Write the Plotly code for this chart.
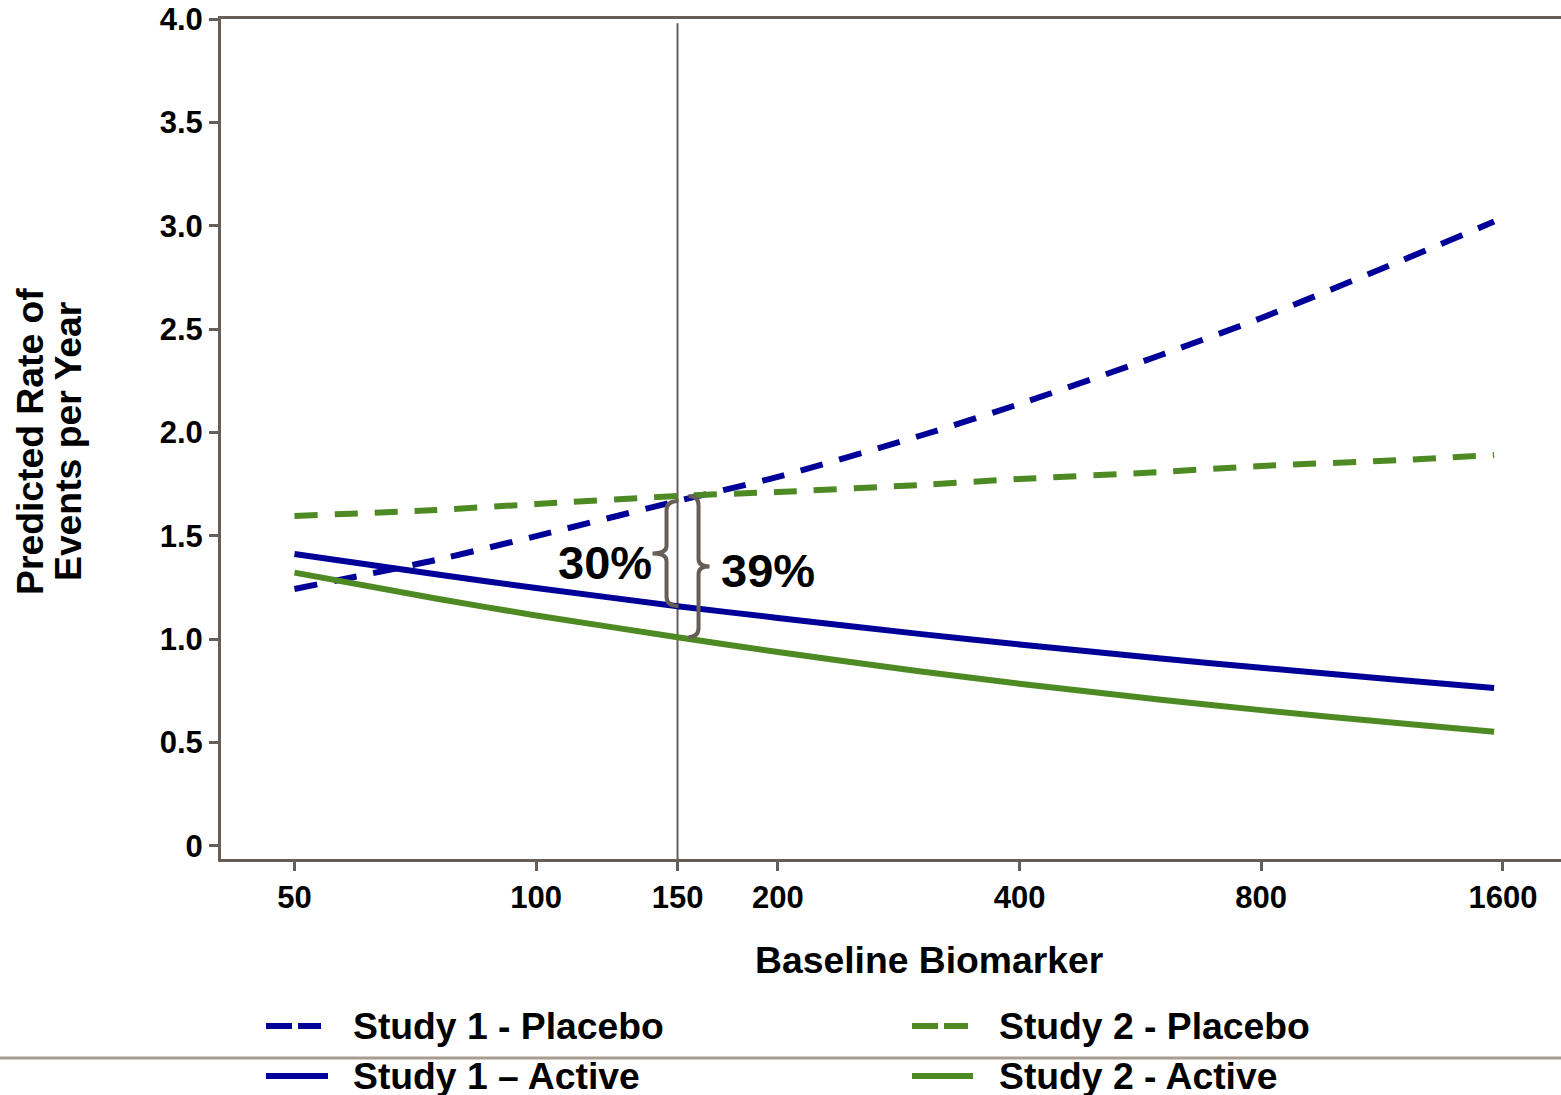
import numpy as np
import plotly.graph_objects as go

# ---------------- data ----------------
biomarker = [50, 75, 100, 150, 200, 300, 400, 600, 800, 1200, 1560]
study1_placebo = [1.243, 1.383, 1.499, 1.669, 1.785, 1.983, 2.138, 2.375, 2.554, 2.834, 3.020]
study1_active = [1.412, 1.314, 1.248, 1.160, 1.103, 1.026, 0.975, 0.907, 0.862, 0.802, 0.764]
study2_placebo = [1.596, 1.625, 1.654, 1.693, 1.712, 1.746, 1.775, 1.809, 1.838, 1.867, 1.891]
study2_active = [1.322, 1.197, 1.115, 1.010, 0.938, 0.845, 0.785, 0.707, 0.657, 0.592, 0.553]

series_names = ["Study 1 - Placebo", "Study 1 \u2013 Active", "Study 2 - Placebo", "Study 2 - Active"]

x_tickvals = [50, 100, 150, 200, 400, 800, 1600]
x_ticktext = ["50", "100", "150", "200", "400", "800", "1600"]
y_tickvals = [0, 0.5, 1.0, 1.5, 2.0, 2.5, 3.0, 3.5, 4.0]
y_ticktext = ["0", "0.5", "1.0", "1.5", "2.0", "2.5", "3.0", "3.5", "4.0"]

reference_biomarker = 150
reduction_labels = ["30%", "39%"]

x_title = "Baseline Biomarker"
y_title_lines = ["Predicted Rate of", "Events per Year"]

# ---------------- styling ----------------
BLUE = "#000099"
GREEN = "#4E8A23"
AXIS = "#675E57"
SEP = "#A89B8F"
FONT = "Liberation Sans, Arial, sans-serif"
BIG = 37.3
W, H = 1561, 1095
ML, MR, MT, MB = 221, 0, 19, 236
PW, PH = W - ML - MR, H - MT - MB


def px_x(px):
    return (px - ML) / PW


def px_y(py):
    return (H - MB - py) / PH


fig = go.Figure()
series = [
    (series_names[0], study1_placebo, BLUE, "23px,17px"),
    (series_names[1], study1_active, BLUE, "solid"),
    (series_names[2], study2_placebo, GREEN, "23px,17px"),
    (series_names[3], study2_active, GREEN, "solid"),
]
for name, vals, col, dash in series:
    fig.add_trace(go.Scatter(
        x=biomarker, y=vals, name=name, mode="lines",
        line=dict(color=col, width=6, dash=dash, shape="spline", smoothing=0.6),
        showlegend=False,
    ))

# vertical reference line
fig.add_shape(type="line", xref="x", yref="paper",
              x0=reference_biomarker, x1=reference_biomarker, y0=0, y1=0.995,
              line=dict(color=AXIS, width=2), layer="below")

i_ref = biomarker.index(reference_biomarker)


def brace(top, bottom, tip, body, point, r):
    mid = (top + bottom) / 2
    return (f"M {tip} {top} Q {body} {top} {body} {top - r} "
            f"L {body} {mid + r * 0.8} Q {body} {mid} {point} {mid} "
            f"Q {body} {mid} {body} {mid - r * 0.8} "
            f"L {body} {bottom + r} Q {body} {bottom} {tip} {bottom}")


s1_top, s1_bot = study1_placebo[i_ref], study1_active[i_ref]
s2_top, s2_bot = study2_placebo[i_ref], study2_active[i_ref]
for top, bot, tip, body, point in [(s1_top, s1_bot, 1, -11, -25),
                                   (s2_top, s2_bot, 11, 21, 32)]:
    fig.add_shape(type="path", xref="x", yref="y", xsizemode="pixel",
                  xanchor=reference_biomarker,
                  path=brace(top, bot, tip, body, point, 0.045),
                  line=dict(color=AXIS, width=4))

fig.add_annotation(x=np.log10(reference_biomarker), y=(s1_top + s1_bot) / 2,
                   xref="x", yref="y", text=reduction_labels[0], showarrow=False,
                   xanchor="right", yanchor="middle", xshift=-24, yshift=-9,
                   font=dict(family=FONT, size=47, color="black", weight="bold"))
fig.add_annotation(x=np.log10(reference_biomarker), y=(s2_top + s2_bot) / 2,
                   xref="x", yref="y", text=reduction_labels[1], showarrow=False,
                   xanchor="left", yanchor="middle", xshift=41, yshift=-4,
                   font=dict(family=FONT, size=47, color="black", weight="bold"))

# axis titles
fig.add_annotation(x=px_x(929), y=px_y(960), xref="paper", yref="paper",
                   text=x_title, showarrow=False, xanchor="center", yanchor="middle",
                   font=dict(family=FONT, size=BIG, color="black", weight="bold"))
for line_text, cx in zip(y_title_lines, [30, 68]):
    fig.add_annotation(x=px_x(cx), y=px_y(442), xref="paper", yref="paper",
                       text=line_text, showarrow=False, textangle=-90,
                       xanchor="center", yanchor="middle",
                       font=dict(family=FONT, size=BIG, color="black", weight="bold"))

# legend (manual, two columns)
legend_items = [
    (series_names[0], BLUE, "26px,6px", 266, 321, 1026, 351),
    (series_names[1], BLUE, "solid", 266, 328, 1076, 351),
    (series_names[2], GREEN, "26px,6px", 912, 968, 1026, 997),
    (series_names[3], GREEN, "solid", 912, 973, 1076, 997),
]
for name, col, dash, lx0, lx1, ly, tx in legend_items:
    fig.add_shape(type="line", xref="paper", yref="paper",
                  x0=px_x(lx0), x1=px_x(lx1), y0=px_y(ly), y1=px_y(ly),
                  line=dict(color=col, width=6, dash=dash))
    fig.add_annotation(x=px_x(tx), y=px_y(ly), xref="paper", yref="paper",
                       text=name, showarrow=False, xanchor="left", yanchor="middle",
                       font=dict(family=FONT, size=BIG, color="black", weight="bold"))

# separator line across the bottom
fig.add_shape(type="line", xref="paper", yref="paper",
              x0=px_x(0), x1=1, y0=px_y(1058), y1=px_y(1058),
              line=dict(color=SEP, width=3))

fig.update_layout(
    width=W, height=H,
    margin=dict(l=ML, r=MR, t=MT, b=MB, pad=0),
    plot_bgcolor="white", paper_bgcolor="white",
    showlegend=False,
    font=dict(family=FONT, color="black"),
)
fig.update_xaxes(
    type="log", range=[np.log10(40.5), np.log10(1890)],
    tickvals=x_tickvals, ticktext=x_ticktext,
    showline=True, linecolor=AXIS, linewidth=3, mirror=True,
    ticks="outside", ticklen=9, tickwidth=3, tickcolor=AXIS,
    showgrid=False, zeroline=False,
    tickfont=dict(family=FONT, size=31, color="black", weight="bold"),
)
fig.update_yaxes(
    range=[-0.063, 4.0],
    tickvals=y_tickvals, ticktext=y_ticktext,
    showline=True, linecolor=AXIS, linewidth=3,
    ticks="outside", ticklen=9, tickwidth=3, tickcolor=AXIS,
    showgrid=False, zeroline=False,
    tickfont=dict(family=FONT, size=31, color="black", weight="bold"),
)

fig.write_html(
    "out.html",
    config={"displayModeBar": False},
    post_script="document.body.style.margin='0';document.body.style.overflow='hidden';",
)
